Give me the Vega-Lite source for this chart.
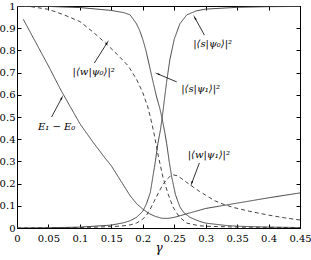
{
  "$schema": "https://vega.github.io/schema/vega-lite/v6.json",
  "autosize": "none",
  "width": 283,
  "height": 222,
  "padding": {"left": 17, "top": 6, "right": 11, "bottom": 32},
  "background": "white",
  "config": {
    "view": {"stroke": "black", "strokeWidth": 1},
    "axis": {"grid": false, "domainColor": "black", "tickColor": "black", "labelFont": "DejaVu Serif", "labelFontSize": 10, "labelColor": "black", "titleFont": "DejaVu Serif", "titleColor": "black"}
  },
  "datasets": {
    "curves": [
      {"g": "E", "s": "solid", "x": 0.01, "y": 0.94},
      {"g": "E", "s": "solid", "x": 0.03, "y": 0.835},
      {"g": "E", "s": "solid", "x": 0.05, "y": 0.73},
      {"g": "E", "s": "solid", "x": 0.07, "y": 0.62},
      {"g": "E", "s": "solid", "x": 0.09, "y": 0.52},
      {"g": "E", "s": "solid", "x": 0.1, "y": 0.47},
      {"g": "E", "s": "solid", "x": 0.12, "y": 0.39},
      {"g": "E", "s": "solid", "x": 0.14, "y": 0.315},
      {"g": "E", "s": "solid", "x": 0.15, "y": 0.28},
      {"g": "E", "s": "solid", "x": 0.16, "y": 0.235},
      {"g": "E", "s": "solid", "x": 0.17, "y": 0.19},
      {"g": "E", "s": "solid", "x": 0.18, "y": 0.145},
      {"g": "E", "s": "solid", "x": 0.19, "y": 0.11},
      {"g": "E", "s": "solid", "x": 0.2, "y": 0.085},
      {"g": "E", "s": "solid", "x": 0.21, "y": 0.065},
      {"g": "E", "s": "solid", "x": 0.22, "y": 0.052},
      {"g": "E", "s": "solid", "x": 0.23, "y": 0.044},
      {"g": "E", "s": "solid", "x": 0.24, "y": 0.043},
      {"g": "E", "s": "solid", "x": 0.25, "y": 0.048},
      {"g": "E", "s": "solid", "x": 0.26, "y": 0.056},
      {"g": "E", "s": "solid", "x": 0.275, "y": 0.068},
      {"g": "E", "s": "solid", "x": 0.3, "y": 0.088},
      {"g": "E", "s": "solid", "x": 0.325, "y": 0.1},
      {"g": "E", "s": "solid", "x": 0.35, "y": 0.112},
      {"g": "E", "s": "solid", "x": 0.4, "y": 0.136},
      {"g": "E", "s": "solid", "x": 0.45, "y": 0.158},

      {"g": "sp0", "s": "solid", "x": 0, "y": 0},
      {"g": "sp0", "s": "solid", "x": 0.05, "y": 0.001},
      {"g": "sp0", "s": "solid", "x": 0.1, "y": 0.004},
      {"g": "sp0", "s": "solid", "x": 0.15, "y": 0.013},
      {"g": "sp0", "s": "solid", "x": 0.17, "y": 0.024},
      {"g": "sp0", "s": "solid", "x": 0.18, "y": 0.033},
      {"g": "sp0", "s": "solid", "x": 0.19, "y": 0.048},
      {"g": "sp0", "s": "solid", "x": 0.2, "y": 0.075},
      {"g": "sp0", "s": "solid", "x": 0.206, "y": 0.11},
      {"g": "sp0", "s": "solid", "x": 0.212, "y": 0.16},
      {"g": "sp0", "s": "solid", "x": 0.216, "y": 0.23},
      {"g": "sp0", "s": "solid", "x": 0.22, "y": 0.3},
      {"g": "sp0", "s": "solid", "x": 0.224, "y": 0.38},
      {"g": "sp0", "s": "solid", "x": 0.228, "y": 0.44},
      {"g": "sp0", "s": "solid", "x": 0.231, "y": 0.5},
      {"g": "sp0", "s": "solid", "x": 0.234, "y": 0.57},
      {"g": "sp0", "s": "solid", "x": 0.238, "y": 0.66},
      {"g": "sp0", "s": "solid", "x": 0.243, "y": 0.757},
      {"g": "sp0", "s": "solid", "x": 0.25, "y": 0.85},
      {"g": "sp0", "s": "solid", "x": 0.259, "y": 0.92},
      {"g": "sp0", "s": "solid", "x": 0.27, "y": 0.96},
      {"g": "sp0", "s": "solid", "x": 0.285, "y": 0.978},
      {"g": "sp0", "s": "solid", "x": 0.3, "y": 0.986},
      {"g": "sp0", "s": "solid", "x": 0.35, "y": 0.994},
      {"g": "sp0", "s": "solid", "x": 0.4, "y": 0.997},
      {"g": "sp0", "s": "solid", "x": 0.45, "y": 0.998},

      {"g": "sp1", "s": "solid", "x": 0, "y": 0.999},
      {"g": "sp1", "s": "solid", "x": 0.05, "y": 0.998},
      {"g": "sp1", "s": "solid", "x": 0.1, "y": 0.993},
      {"g": "sp1", "s": "solid", "x": 0.15, "y": 0.98},
      {"g": "sp1", "s": "solid", "x": 0.17, "y": 0.97},
      {"g": "sp1", "s": "solid", "x": 0.18, "y": 0.96},
      {"g": "sp1", "s": "solid", "x": 0.19, "y": 0.92},
      {"g": "sp1", "s": "solid", "x": 0.195, "y": 0.89},
      {"g": "sp1", "s": "solid", "x": 0.2, "y": 0.85},
      {"g": "sp1", "s": "solid", "x": 0.205, "y": 0.8},
      {"g": "sp1", "s": "solid", "x": 0.211, "y": 0.725},
      {"g": "sp1", "s": "solid", "x": 0.217, "y": 0.65},
      {"g": "sp1", "s": "solid", "x": 0.222, "y": 0.59},
      {"g": "sp1", "s": "solid", "x": 0.227, "y": 0.54},
      {"g": "sp1", "s": "solid", "x": 0.231, "y": 0.49},
      {"g": "sp1", "s": "solid", "x": 0.235, "y": 0.43},
      {"g": "sp1", "s": "solid", "x": 0.238, "y": 0.38},
      {"g": "sp1", "s": "solid", "x": 0.242, "y": 0.3},
      {"g": "sp1", "s": "solid", "x": 0.246, "y": 0.23},
      {"g": "sp1", "s": "solid", "x": 0.252, "y": 0.15},
      {"g": "sp1", "s": "solid", "x": 0.259, "y": 0.095},
      {"g": "sp1", "s": "solid", "x": 0.265, "y": 0.07},
      {"g": "sp1", "s": "solid", "x": 0.275, "y": 0.048},
      {"g": "sp1", "s": "solid", "x": 0.29, "y": 0.03},
      {"g": "sp1", "s": "solid", "x": 0.3, "y": 0.022},
      {"g": "sp1", "s": "solid", "x": 0.33, "y": 0.012},
      {"g": "sp1", "s": "solid", "x": 0.35, "y": 0.008},
      {"g": "sp1", "s": "solid", "x": 0.4, "y": 0.004},
      {"g": "sp1", "s": "solid", "x": 0.45, "y": 0.002},

      {"g": "wp0", "s": "dashed", "x": 0, "y": 1.0},
      {"g": "wp0", "s": "dashed", "x": 0.02, "y": 0.998},
      {"g": "wp0", "s": "dashed", "x": 0.05, "y": 0.985},
      {"g": "wp0", "s": "dashed", "x": 0.075, "y": 0.96},
      {"g": "wp0", "s": "dashed", "x": 0.1, "y": 0.93},
      {"g": "wp0", "s": "dashed", "x": 0.12, "y": 0.885},
      {"g": "wp0", "s": "dashed", "x": 0.142, "y": 0.83},
      {"g": "wp0", "s": "dashed", "x": 0.16, "y": 0.78},
      {"g": "wp0", "s": "dashed", "x": 0.177, "y": 0.73},
      {"g": "wp0", "s": "dashed", "x": 0.19, "y": 0.67},
      {"g": "wp0", "s": "dashed", "x": 0.2, "y": 0.61},
      {"g": "wp0", "s": "dashed", "x": 0.208, "y": 0.545},
      {"g": "wp0", "s": "dashed", "x": 0.212, "y": 0.5},
      {"g": "wp0", "s": "dashed", "x": 0.216, "y": 0.45},
      {"g": "wp0", "s": "dashed", "x": 0.219, "y": 0.41},
      {"g": "wp0", "s": "dashed", "x": 0.225, "y": 0.32},
      {"g": "wp0", "s": "dashed", "x": 0.232, "y": 0.23},
      {"g": "wp0", "s": "dashed", "x": 0.24, "y": 0.155},
      {"g": "wp0", "s": "dashed", "x": 0.248, "y": 0.095},
      {"g": "wp0", "s": "dashed", "x": 0.258, "y": 0.05},
      {"g": "wp0", "s": "dashed", "x": 0.27, "y": 0.022},
      {"g": "wp0", "s": "dashed", "x": 0.29, "y": 0.01},
      {"g": "wp0", "s": "dashed", "x": 0.3, "y": 0.008},
      {"g": "wp0", "s": "dashed", "x": 0.35, "y": 0.004},
      {"g": "wp0", "s": "dashed", "x": 0.45, "y": 0.002},

      {"g": "wp1", "s": "dashed", "x": 0, "y": 0},
      {"g": "wp1", "s": "dashed", "x": 0.1, "y": 0.002},
      {"g": "wp1", "s": "dashed", "x": 0.15, "y": 0.006},
      {"g": "wp1", "s": "dashed", "x": 0.17, "y": 0.01},
      {"g": "wp1", "s": "dashed", "x": 0.18, "y": 0.014},
      {"g": "wp1", "s": "dashed", "x": 0.19, "y": 0.022},
      {"g": "wp1", "s": "dashed", "x": 0.2, "y": 0.04},
      {"g": "wp1", "s": "dashed", "x": 0.206, "y": 0.058},
      {"g": "wp1", "s": "dashed", "x": 0.211, "y": 0.08},
      {"g": "wp1", "s": "dashed", "x": 0.218, "y": 0.12},
      {"g": "wp1", "s": "dashed", "x": 0.227, "y": 0.17},
      {"g": "wp1", "s": "dashed", "x": 0.233, "y": 0.2},
      {"g": "wp1", "s": "dashed", "x": 0.238, "y": 0.218},
      {"g": "wp1", "s": "dashed", "x": 0.243, "y": 0.232},
      {"g": "wp1", "s": "dashed", "x": 0.248, "y": 0.24},
      {"g": "wp1", "s": "dashed", "x": 0.255, "y": 0.235},
      {"g": "wp1", "s": "dashed", "x": 0.262, "y": 0.222},
      {"g": "wp1", "s": "dashed", "x": 0.27, "y": 0.205},
      {"g": "wp1", "s": "dashed", "x": 0.28, "y": 0.185},
      {"g": "wp1", "s": "dashed", "x": 0.29, "y": 0.165},
      {"g": "wp1", "s": "dashed", "x": 0.3, "y": 0.148},
      {"g": "wp1", "s": "dashed", "x": 0.315, "y": 0.122},
      {"g": "wp1", "s": "dashed", "x": 0.33, "y": 0.105},
      {"g": "wp1", "s": "dashed", "x": 0.345, "y": 0.092},
      {"g": "wp1", "s": "dashed", "x": 0.37, "y": 0.075},
      {"g": "wp1", "s": "dashed", "x": 0.4, "y": 0.058},
      {"g": "wp1", "s": "dashed", "x": 0.425, "y": 0.046},
      {"g": "wp1", "s": "dashed", "x": 0.45, "y": 0.036}
    ],
    "notes": [
      {"label": "|⟨w|ψ₀⟩|²", "tx": 0.122, "ty": 0.703, "ax": 0.123, "ay": 0.743, "hx": 0.143, "hy": 0.833},
      {"label": "E₁ − E₀", "tx": 0.063, "ty": 0.455, "ax": 0.055, "ay": 0.5, "hx": 0.071, "hy": 0.585},
      {"label": "|⟨s|ψ₀⟩|²", "tx": 0.311, "ty": 0.829, "ax": 0.298, "ay": 0.869, "hx": 0.283, "hy": 0.946},
      {"label": "|⟨s|ψ₁⟩|²", "tx": 0.292, "ty": 0.626, "ax": 0.254, "ay": 0.658, "hx": 0.224, "hy": 0.694},
      {"label": "|⟨w|ψ₁⟩|²", "tx": 0.305, "ty": 0.329, "ax": 0.29, "ay": 0.293, "hx": 0.278, "hy": 0.203}
    ]
  },
  "layer": [
    {
      "data": {"name": "curves"},
      "mark": {"type": "line", "strokeWidth": 1, "color": "#444", "clip": true},
      "encoding": {
        "x": {"field": "x", "type": "quantitative", "scale": {"domain": [0, 0.45], "nice": false},
          "axis": {"orient": "bottom", "values": [0, 0.05, 0.1, 0.15, 0.2, 0.25, 0.3, 0.35, 0.4, 0.45], "format": ".2~f", "tickSize": -4, "labelPadding": 9, "title": "γ", "titleFontSize": 12, "titleFontStyle": "italic", "titleFontWeight": "normal", "titlePadding": -1, "labelFlush": false}},
        "y": {"field": "y", "type": "quantitative", "scale": {"domain": [0, 1], "nice": false},
          "axis": {"orient": "left", "values": [0, 0.1, 0.2, 0.3, 0.4, 0.5, 0.6, 0.7, 0.8, 0.9, 1], "format": ".1~f", "tickSize": -4, "labelPadding": 6, "title": null, "labelFlush": false}},
        "detail": {"field": "g"},
        "strokeDash": {"field": "s", "type": "nominal", "scale": {"domain": ["solid", "dashed"], "range": [[1, 0], [4, 3]]}, "legend": null}
      }
    },
    {
      "data": {"name": "notes"},
      "mark": {"type": "rule", "color": "black", "strokeWidth": 0.8},
      "encoding": {
        "x": {"field": "ax", "type": "quantitative", "scale": {"domain": [0, 0.45], "nice": false},
          "axis": {"orient": "top", "values": [0, 0.05, 0.1, 0.15, 0.2, 0.25, 0.3, 0.35, 0.4, 0.45], "tickSize": -4, "labels": false, "title": null}},
        "y": {"field": "ay", "type": "quantitative", "scale": {"domain": [0, 1], "nice": false},
          "axis": {"orient": "right", "values": [0, 0.1, 0.2, 0.3, 0.4, 0.5, 0.6, 0.7, 0.8, 0.9, 1], "tickSize": -4, "labels": false, "title": null}},
        "x2": {"field": "hx"},
        "y2": {"field": "hy"}
      }
    },
    {
      "data": {"name": "notes"},
      "transform": [
        {"calculate": "atan2((datum.hx - datum.ax) * 628.9, (datum.hy - datum.ay) * 222) * 180 / PI", "as": "ang"}
      ],
      "mark": {"type": "point", "shape": "wedge", "filled": true, "color": "black", "size": 40, "opacity": 1},
      "encoding": {
        "x": {"field": "hx", "type": "quantitative", "axis": null},
        "y": {"field": "hy", "type": "quantitative", "axis": null},
        "angle": {"field": "ang", "type": "quantitative", "scale": null}
      }
    },
    {
      "data": {"name": "notes"},
      "mark": {"type": "text", "font": "DejaVu Serif", "fontSize": 10, "fontStyle": "italic", "color": "black", "align": "center", "baseline": "middle"},
      "encoding": {
        "x": {"field": "tx", "type": "quantitative", "axis": null},
        "y": {"field": "ty", "type": "quantitative", "axis": null},
        "text": {"field": "label"}
      }
    }
  ],
  "resolve": {"axis": {"x": "independent", "y": "independent"}}
}
